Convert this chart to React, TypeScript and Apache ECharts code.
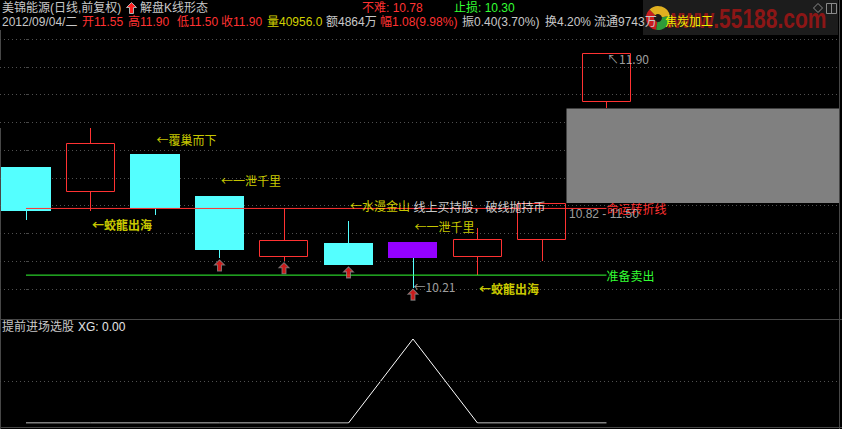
import React, { useEffect, useRef } from "react";
import * as echarts from "echarts";

// ---- data ----
const stockName = "美锦能源";
const dateLabel = "2012/09/04/二";
const candleIndex = [0, 1, 2, 3, 4, 5, 6, 7, 8, 9];
const opens = [11.08, 10.9, 11.17, 10.87, 10.43, 10.53, 10.54, 10.43, 10.55, 11.55];
const closes = [10.76, 11.25, 10.78, 10.48, 10.55, 10.37, 10.42, 10.56, 10.82, 11.9];
const lows = [10.7, 10.76, 10.73, 10.42, 10.4, 10.37, 10.21, 10.3, 10.4, 11.5];
const highs = [11.08, 11.36, 11.17, 10.87, 10.78, 10.69, 10.54, 10.64, 10.82, 11.9];
const highlightCandle = 6;
const buySignals = [3, 4, 5, 6];
const turnLevel = 10.78;
const stopLevel = 10.3;
const xgValues = [0, 0, 0, 0, 0, 0, 1, 0, 0, 0];
const volume = "40956.0";
const amount = "4864万";
const turnover = "4.20%";
const floatShares = "9743万";
const sector = "焦炭加工";
const patternNotes = [
  { index: 1, side: "low", text: "←蛟龍出海" },
  { index: 2, side: "high", text: "←覆巢而下" },
  { index: 3, side: "high", text: "←一泄千里" },
  { index: 5, side: "high", text: "←水漫金山" },
  { index: 6, side: "high", text: "←一泄千里" },
  { index: 7, side: "low", text: "←蛟龍出海" },
];
const yTicks = [10.2, 12.0, 0.2]; // min, max, step

// ---- styles ----
const FONT = '"Liberation Sans", "Noto Sans CJK SC", sans-serif';
const FONT_CJK = '"Noto Sans CJK SC", "Liberation Sans", sans-serif';
const RED = "#ff3232";
const CYAN = "#54ffff";
const PURPLE = "#9400ff";
const YELLOW = "#ffff00";
const GREEN = "#33ff33";
const GRAY = "#c8c8c8";
const BORDER = "#474747";
const X_MIN = -0.403;
const X_MAX = 12.605;
const BODY = 0.76;

const last = candleIndex.length - 1;
const prevClose = closes[last - 1];

function renderCandle(params: any, api: any) {
  const i = api.value(0);
  const o = api.value(1);
  const c = api.value(2);
  const lo = api.value(3);
  const hi = api.value(4);
  const up = c > o;
  const pTop = api.coord([i, Math.max(o, c)]);
  const yBot = api.coord([i, Math.min(o, c)])[1];
  const yHi = api.coord([i, hi])[1];
  const yLo = api.coord([i, lo])[1];
  const w = api.size([BODY, 0])[0];
  const cx = Math.round(pTop[0]) + 0.5;
  const left = Math.round(pTop[0] - w / 2);
  const right = Math.round(pTop[0] + w / 2);
  const top = Math.round(pTop[1]);
  const bot = Math.round(yBot);
  const wick = up ? RED : CYAN;
  const children: any[] = [];
  if (yHi < top - 0.5) {
    children.push({ type: "line", shape: { x1: cx, y1: Math.round(yHi), x2: cx, y2: top }, style: { stroke: wick, lineWidth: 1 } });
  }
  if (yLo > bot + 0.5) {
    children.push({ type: "line", shape: { x1: cx, y1: bot, x2: cx, y2: Math.round(yLo) }, style: { stroke: wick, lineWidth: 1 } });
  }
  if (up) {
    children.push({
      type: "rect",
      shape: { x: left + 0.5, y: top + 0.5, width: right - left - 1, height: bot - top - 1 },
      style: { fill: "none", stroke: RED, lineWidth: 1 },
    });
  } else {
    children.push({
      type: "rect",
      shape: { x: left, y: top, width: right - left, height: Math.max(1, bot - top) },
      style: { fill: params.dataIndex === highlightCandle ? PURPLE : CYAN },
    });
  }
  return { type: "group", children };
}

function txt(x: number, y: number, text: string, fill: string, extra: any = {}) {
  return {
    type: "text",
    x,
    y,
    silent: true,
    style: { text, fill, fontSize: 12, fontFamily: FONT, verticalAlign: "middle", ...extra },
  };
}

function buildOption() {
  const candles = candleIndex.map((i) => [i, opens[i], closes[i], lows[i], highs[i]]);
  const gapStart = last - 1 + BODY / 2;
  const gapLow = closes[last - 1];
  const gapHigh = lows[last];
  const change = closes[last] - prevClose;
  const amplitude = highs[last] - lows[last];

  const notes: any[] = patternNotes.map((n) => ({
    value: [n.index, n.side === "high" ? highs[n.index] : lows[n.index]],
    label: {
      formatter: n.text,
      color: YELLOW,
      fontFamily: FONT_CJK,
      fontWeight: n.side === "low" ? "bold" : "normal",
      offset: [1, n.side === "high" ? -15 : 13],
    },
  }));
  notes.push({
    value: [highlightCandle, turnLevel],
    label: { formatter: "线上买持股，破线抛持币", color: "#ffffff", fontFamily: FONT_CJK, offset: [0, -2] },
  });
  notes.push({
    value: [highlightCandle, lows[highlightCandle]],
    label: { formatter: "←" + lows[highlightCandle].toFixed(2), color: GRAY, fontFamily: FONT_CJK, offset: [0, -1] },
  });
  notes.push({
    value: [last, highs[last]],
    label: { formatter: "↖" + highs[last].toFixed(2), color: GRAY, fontFamily: FONT_CJK, offset: [0, 6] },
  });
  notes.push({
    value: [gapStart, gapLow],
    label: { formatter: gapLow.toFixed(2) + " - " + gapHigh.toFixed(2), color: GRAY, offset: [2, 11] },
  });

  const header1 = [
    txt(2, 8, stockName + "(日线,前复权)", GRAY),
    txt(140, 8, "解盘K线形态", GRAY),
    txt(362, 8, "不难: " + turnLevel.toFixed(2), RED),
    txt(454, 8, "止损: " + stopLevel.toFixed(2), GREEN),
    {
      type: "polygon",
      silent: true,
      shape: { points: [[131.5, 2.5], [136.5, 7.5], [133.5, 7.5], [133.5, 13.5], [129.5, 13.5], [129.5, 7.5], [126.5, 7.5]] },
      style: { fill: "#ff2020", stroke: "#b0b0b0", lineWidth: 1 },
    },
  ];

  // site badge in the top-right corner
  const badge = {
    type: "group",
    x: 643,
    y: 0,
    silent: true,
    children: [
      { type: "rect", shape: { x: 0, y: 0, width: 195, height: 35 }, style: { fill: "#1c1c1c" } },
      {
        type: "group",
        x: 22,
        y: 18,
        scaleY: 1.35,
        children: [
          {
            type: "text",
            x: 0,
            y: 0,
            style: {
              text: "www.55188.com",
              fill: "#8c1616",
              fontSize: 21,
              fontWeight: "bold",
              fontFamily: '"Liberation Sans", sans-serif',
              verticalAlign: "middle",
            },
          },
        ],
      },
      { type: "sector", shape: { cx: 15, cy: 18, r: 12, r0: 4, startAngle: Math.PI * 0.55, endAngle: Math.PI * 1.25 }, style: { fill: "#c81e1e" } },
      { type: "sector", shape: { cx: 15, cy: 18, r: 12, r0: 4, startAngle: Math.PI * 1.25, endAngle: Math.PI * 1.95 }, style: { fill: "#e0b020" } },
      { type: "sector", shape: { cx: 15, cy: 18, r: 12, r0: 4, startAngle: Math.PI * -0.05, endAngle: Math.PI * 0.55 }, style: { fill: "#2e9a3a" } },
      { type: "polygon", shape: { points: [[175, 3.5], [179.5, 8], [175, 12.5], [170.5, 8]] }, style: { fill: "none", stroke: "#8a8a8a", lineWidth: 1 } },
      { type: "rect", shape: { x: 183.5, y: 3.5, width: 10, height: 10 }, style: { fill: "none", stroke: "#8a8a8a", lineWidth: 1 } },
      { type: "line", shape: { x1: 188.5, y1: 3.5, x2: 188.5, y2: 13.5 }, style: { stroke: "#8a8a8a", lineWidth: 1 } },
    ],
  };

  const header2 = [
    txt(2, 22, dateLabel, GRAY),
    txt(82, 22, "开" + opens[last].toFixed(2), RED),
    txt(128, 22, "高" + highs[last].toFixed(2), RED),
    txt(177, 22, "低" + lows[last].toFixed(2), RED),
    txt(221, 22, "收" + closes[last].toFixed(2), RED),
    txt(267, 22, "量" + volume, "#d2d200"),
    txt(326, 22, "额" + amount, GRAY),
    txt(380, 22, "幅" + change.toFixed(2) + "(" + ((change / prevClose) * 100).toFixed(2) + "%)", RED),
    txt(462, 22, "振" + amplitude.toFixed(2) + "(" + ((amplitude / prevClose) * 100).toFixed(2) + "%)", GRAY),
    txt(545, 22, "换" + turnover, GRAY),
    txt(594, 22, "流通" + floatShares, GRAY),
    txt(665, 22, sector, "#f0f000"),
  ];

  const frame = [
    { type: "line", silent: true, shape: { x1: 0, y1: 319.5, x2: 842, y2: 319.5 }, style: { stroke: BORDER, lineWidth: 1 } },
    { type: "line", silent: true, shape: { x1: 0, y1: 427.5, x2: 842, y2: 427.5 }, style: { stroke: BORDER, lineWidth: 1 } },
    { type: "line", silent: true, shape: { x1: 839.5, y1: 0, x2: 839.5, y2: 429 }, style: { stroke: BORDER, lineWidth: 1 } },
    { type: "line", silent: true, shape: { x1: 0.5, y1: 30, x2: 0.5, y2: 60 }, style: { stroke: BORDER, lineWidth: 1 } },
    { type: "line", silent: true, shape: { x1: 0.5, y1: 128, x2: 0.5, y2: 429 }, style: { stroke: BORDER, lineWidth: 1 } },
    txt(2, 327, "提前进场选股", GRAY),
    txt(78, 327, "XG: " + xgValues[last].toFixed(2), "#e6e6e6"),
  ];

  return {
    animation: false,
    backgroundColor: "#000000",
    textStyle: { fontFamily: FONT, fontSize: 12 },
    grid: [
      { left: 0, top: 39, width: 839, height: 250 },
      { left: 0, top: 339, width: 839, height: 84 },
    ],
    xAxis: [
      { type: "value", gridIndex: 0, min: X_MIN, max: X_MAX, show: false },
      { type: "value", gridIndex: 1, min: X_MIN, max: X_MAX, show: false },
    ],
    yAxis: [
      {
        type: "value",
        gridIndex: 0,
        min: yTicks[0],
        max: yTicks[1],
        interval: yTicks[2],
        position: "right",
        axisLine: { show: false },
        axisTick: { show: true, length: 3, lineStyle: { color: BORDER } },
        axisLabel: { show: false },
        splitLine: { show: true, lineStyle: { color: "#505050", width: 1, type: [1, 3] } },
      },
      { type: "value", gridIndex: 1, min: 0, max: 1, show: false },
    ],
    graphic: [...frame, badge, ...header1, ...header2],
    series: [
      {
        type: "custom",
        name: "K",
        xAxisIndex: 0,
        yAxisIndex: 0,
        data: candles,
        encode: { x: 0, y: [1, 2, 3, 4] },
        renderItem: renderCandle,
        clip: false,
        z: 2,
      },
      {
        type: "scatter",
        name: "gap",
        xAxisIndex: 0,
        yAxisIndex: 0,
        symbolSize: 1,
        itemStyle: { color: "rgba(0,0,0,0)" },
        data: [],
        markArea: {
          silent: true,
          itemStyle: { color: "#808080" },
          data: [[{ coord: [gapStart, gapLow] }, { coord: [X_MAX, gapHigh] }]],
        },
        z: 1,
      },
      {
        type: "line",
        name: "命运转折线",
        xAxisIndex: 0,
        yAxisIndex: 0,
        data: [[0, turnLevel], [last, turnLevel]],
        symbol: "none",
        lineStyle: { color: RED, width: 1 },
        endLabel: { show: true, formatter: "命运转折线", color: RED, fontFamily: FONT_CJK, distance: 0 },
        z: 4,
      },
      {
        type: "line",
        name: "准备卖出",
        xAxisIndex: 0,
        yAxisIndex: 0,
        data: [[0, stopLevel], [last, stopLevel]],
        symbol: "none",
        lineStyle: { color: GREEN, width: 1 },
        endLabel: { show: true, formatter: "准备卖出", color: GREEN, fontFamily: FONT_CJK, distance: 0 },
        z: 4,
      },
      {
        type: "scatter",
        name: "notes",
        xAxisIndex: 0,
        yAxisIndex: 0,
        symbolSize: 1,
        itemStyle: { color: "rgba(0,0,0,0)" },
        label: { show: true, position: "right", distance: 0, fontSize: 12 },
        data: notes,
        z: 5,
      },
      {
        type: "scatter",
        name: "buy",
        xAxisIndex: 0,
        yAxisIndex: 0,
        symbol: "path://M5,0L10,5L7,5L7,11L3,11L3,5L0,5Z",
        symbolSize: [10, 11],
        symbolOffset: [0, 7],
        itemStyle: { color: "#ff2020", borderColor: "#8a8a8a", borderWidth: 1 },
        data: buySignals.map((i) => [i, lows[i]]),
        z: 5,
      },
      {
        type: "line",
        name: "XG",
        xAxisIndex: 1,
        yAxisIndex: 1,
        data: xgValues.map((v, i) => [i, v]),
        symbol: "none",
        lineStyle: { color: "#ffffff", width: 1 },
        markLine: {
          silent: true,
          symbol: "none",
          label: { show: false },
          lineStyle: { color: "#505050", width: 1, type: [1, 3] },
          data: [{ yAxis: 0.5 }],
        },
      },
    ],
  };
}

export default function App() {
  const ref = useRef<HTMLDivElement>(null);
  useEffect(() => {
    document.body.style.margin = "0";
    document.body.style.background = "#000";
    const chart = echarts.init(ref.current!, undefined, { renderer: "svg" });
    chart.setOption(buildOption() as any);
    return () => chart.dispose();
  }, []);
  return <div ref={ref} style={{ position: "absolute", left: 0, top: 0, width: 842, height: 429 }} />;
}
